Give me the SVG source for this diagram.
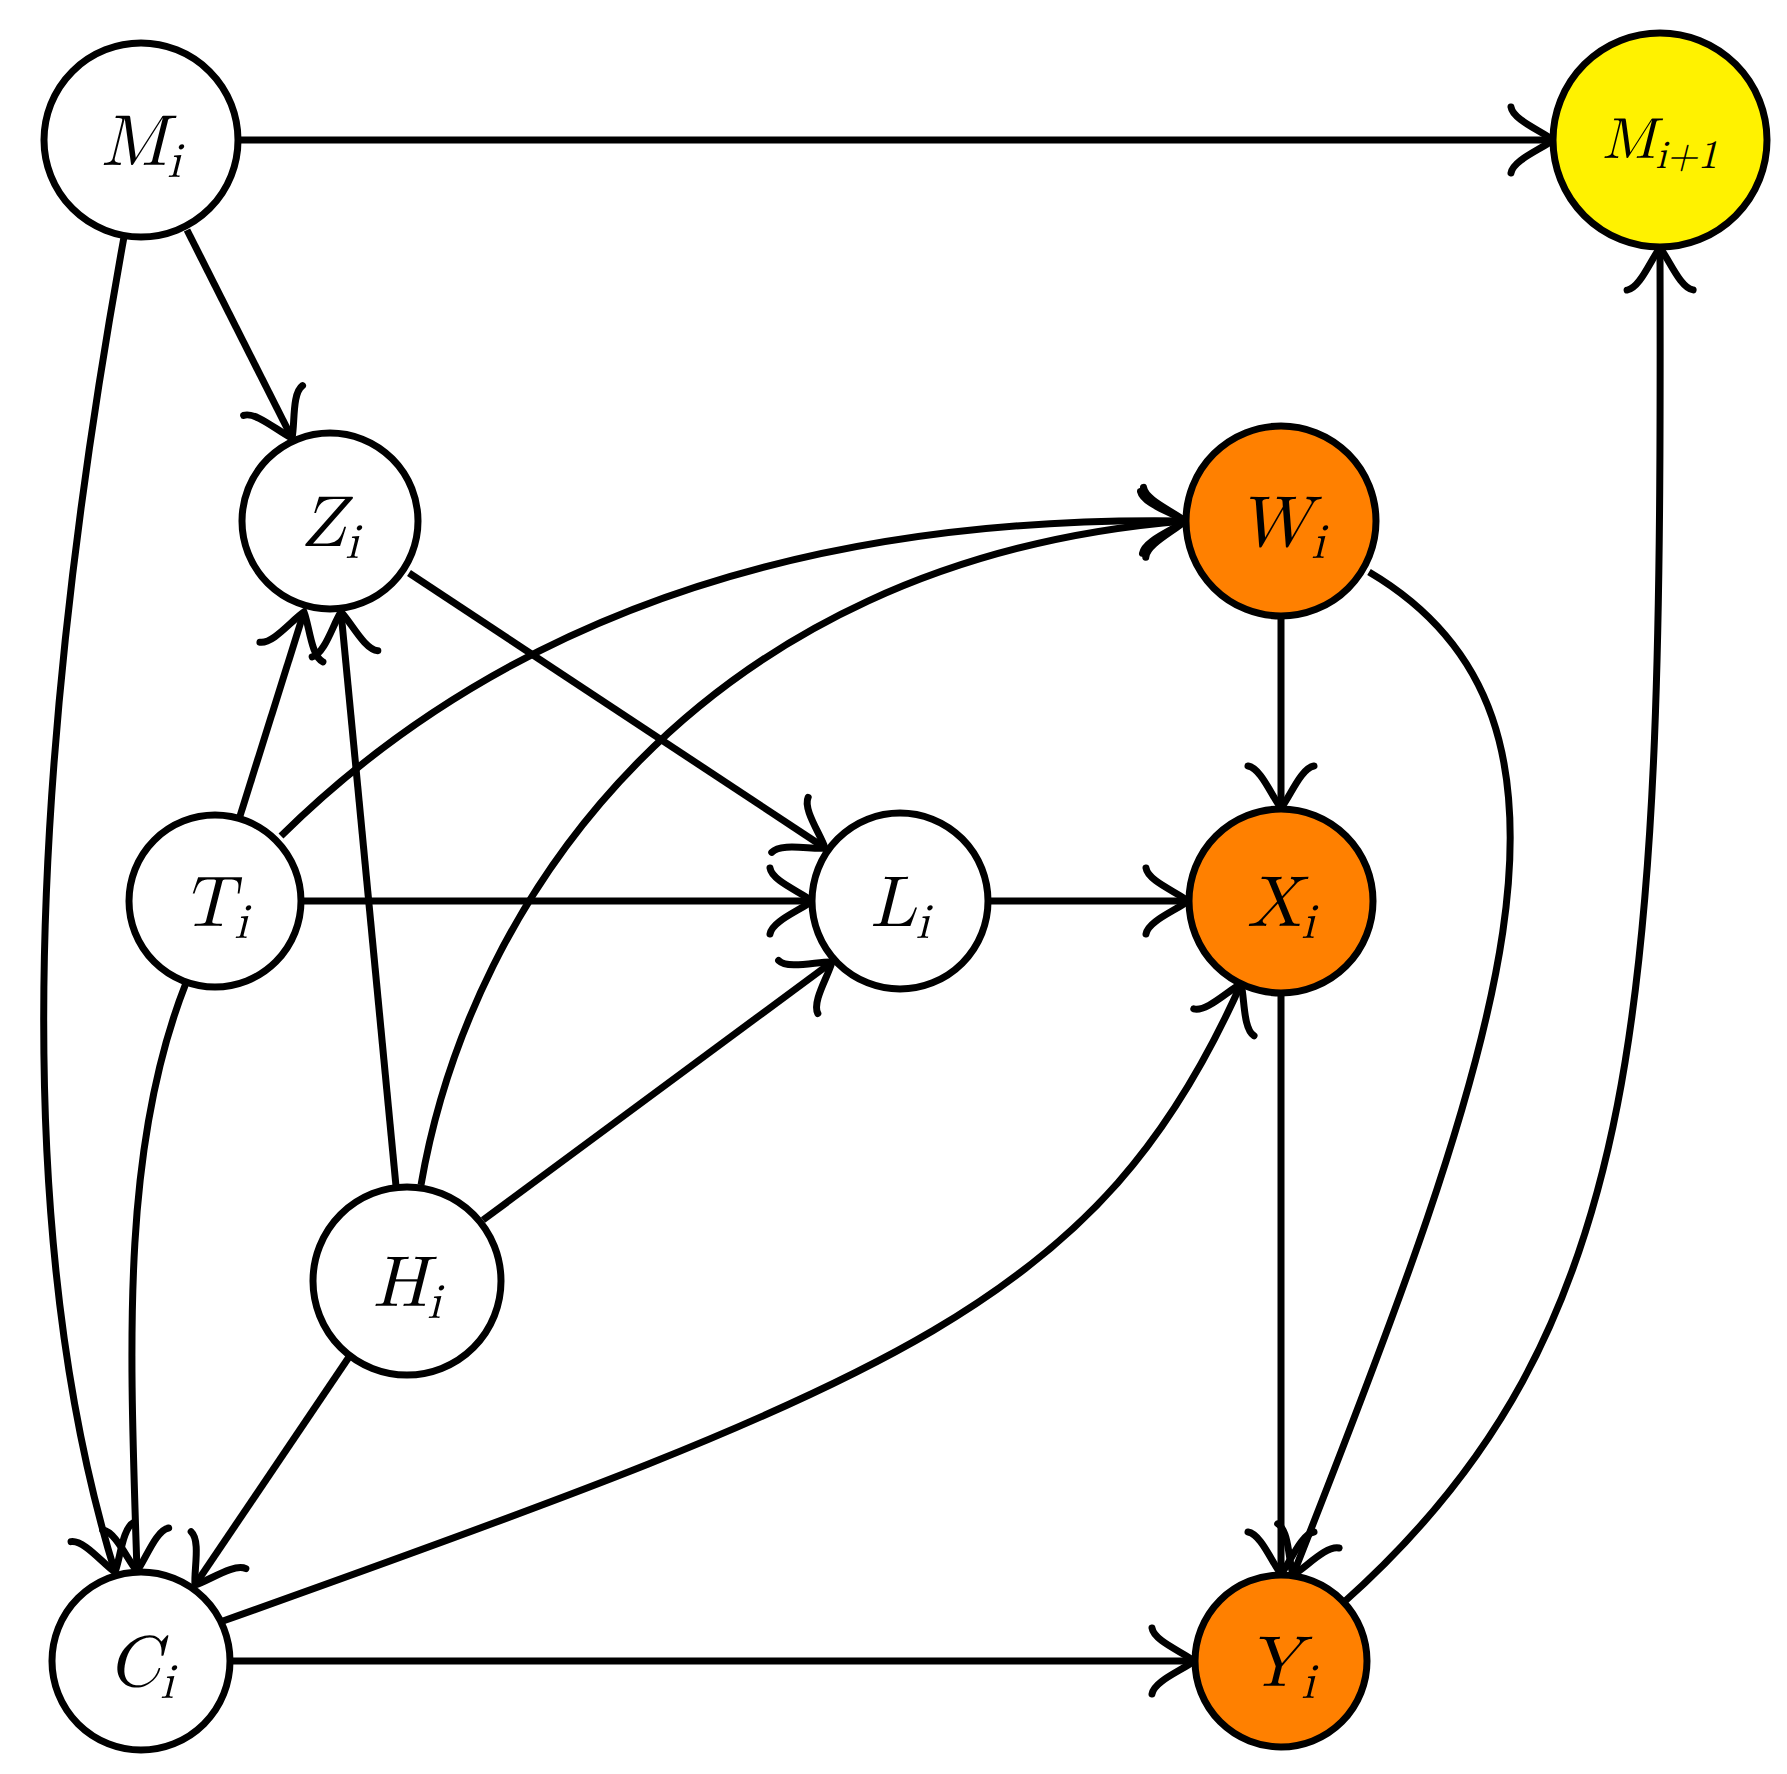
<svg xmlns="http://www.w3.org/2000/svg" width="1787" height="1774" viewBox="0 0 1787 1774">
<style>
.n{stroke:#000;stroke-width:7}
.e{fill:none;stroke:#000;stroke-width:7}
text{font-family:"Latin Modern Math","Liberation Serif",serif;font-style:italic;font-size:72px;text-anchor:middle}
.s{font-size:50px}
</style>
<defs>
<marker id="a" markerUnits="userSpaceOnUse" viewBox="-50 -40 58 80" markerWidth="58" markerHeight="80" refX="0" refY="0" orient="auto" overflow="visible">
<path d="M-42,-33 C-40,-20 -11,-9 0,0 C-11,9 -40,20 -42,33" fill="none" stroke="#000" stroke-width="7" stroke-linecap="round"/>
</marker>
</defs>
<rect width="1787" height="1774" fill="#fff"/>
<g id="edges" marker-end="url(#a)">
<path class="e" d="M238,140 L1553,140"/>
<path class="e" d="M187,230 L292,438"/>
<path class="e" d="M124,237 C40,700 0,1200 115,1572"/>
<path class="e" d="M240,816 L304,612"/>
<path class="e" d="M396,1186 L341,612"/>
<path class="e" d="M409,573 L825,848"/>
<path class="e" d="M281,836 C500,620 800,515 1185,521"/>
<path class="e" d="M421,1185 C470,900 700,560 1185,521"/>
<path class="e" d="M301,901 L812,901"/>
<path class="e" d="M483,1220 L832,962"/>
<path class="e" d="M988,901 L1188,901"/>
<path class="e" d="M1281,616 L1281,808"/>
<path class="e" d="M1369,572 C1620,720 1500,1050 1293,1575"/>
<path class="e" d="M1281,993 L1281,1574"/>
<path class="e" d="M1343,1603 C1650,1330 1662,1000 1660,248"/>
<path class="e" d="M349,1357 L195,1585"/>
<path class="e" d="M186,983 C120,1150 130,1350 137,1571"/>
<path class="e" d="M223,1621 C900,1380 1100,1300 1241,984"/>
<path class="e" d="M230,1661 L1194,1661"/>
</g>
<g id="M"><circle class="n" cx="141" cy="140" r="97" fill="#fff"/><text x="141" y="165">M<tspan class="s" dy="12">i</tspan></text></g>
<g id="M1"><circle class="n" cx="1660" cy="140" r="107" fill="#fff200"/><text x="1660" y="158" style="font-size:58px">M<tspan class="s" style="font-size:40px" dy="10">i+1</tspan></text></g>
<g id="Z"><circle class="n" cx="330" cy="521" r="88" fill="#fff"/><text x="330" y="546">Z<tspan class="s" dy="12">i</tspan></text></g>
<g id="W"><circle class="n" cx="1281" cy="521" r="95" fill="#ff8000"/><text x="1281" y="546">W<tspan class="s" dy="12">i</tspan></text></g>
<g id="T"><circle class="n" cx="215" cy="901" r="86" fill="#fff"/><text x="215" y="926">T<tspan class="s" dy="12">i</tspan></text></g>
<g id="L"><circle class="n" cx="900" cy="901" r="88" fill="#fff"/><text x="900" y="926">L<tspan class="s" dy="12">i</tspan></text></g>
<g id="X"><circle class="n" cx="1281" cy="901" r="92" fill="#ff8000"/><text x="1281" y="926">X<tspan class="s" dy="12">i</tspan></text></g>
<g id="H"><circle class="n" cx="407" cy="1281" r="94" fill="#fff"/><text x="407" y="1306">H<tspan class="s" dy="12">i</tspan></text></g>
<g id="C"><circle class="n" cx="141" cy="1661" r="89" fill="#fff"/><text x="141" y="1686">C<tspan class="s" dy="12">i</tspan></text></g>
<g id="Y"><circle class="n" cx="1281" cy="1661" r="86" fill="#ff8000"/><text x="1281" y="1686">Y<tspan class="s" dy="12">i</tspan></text></g>
</svg>
